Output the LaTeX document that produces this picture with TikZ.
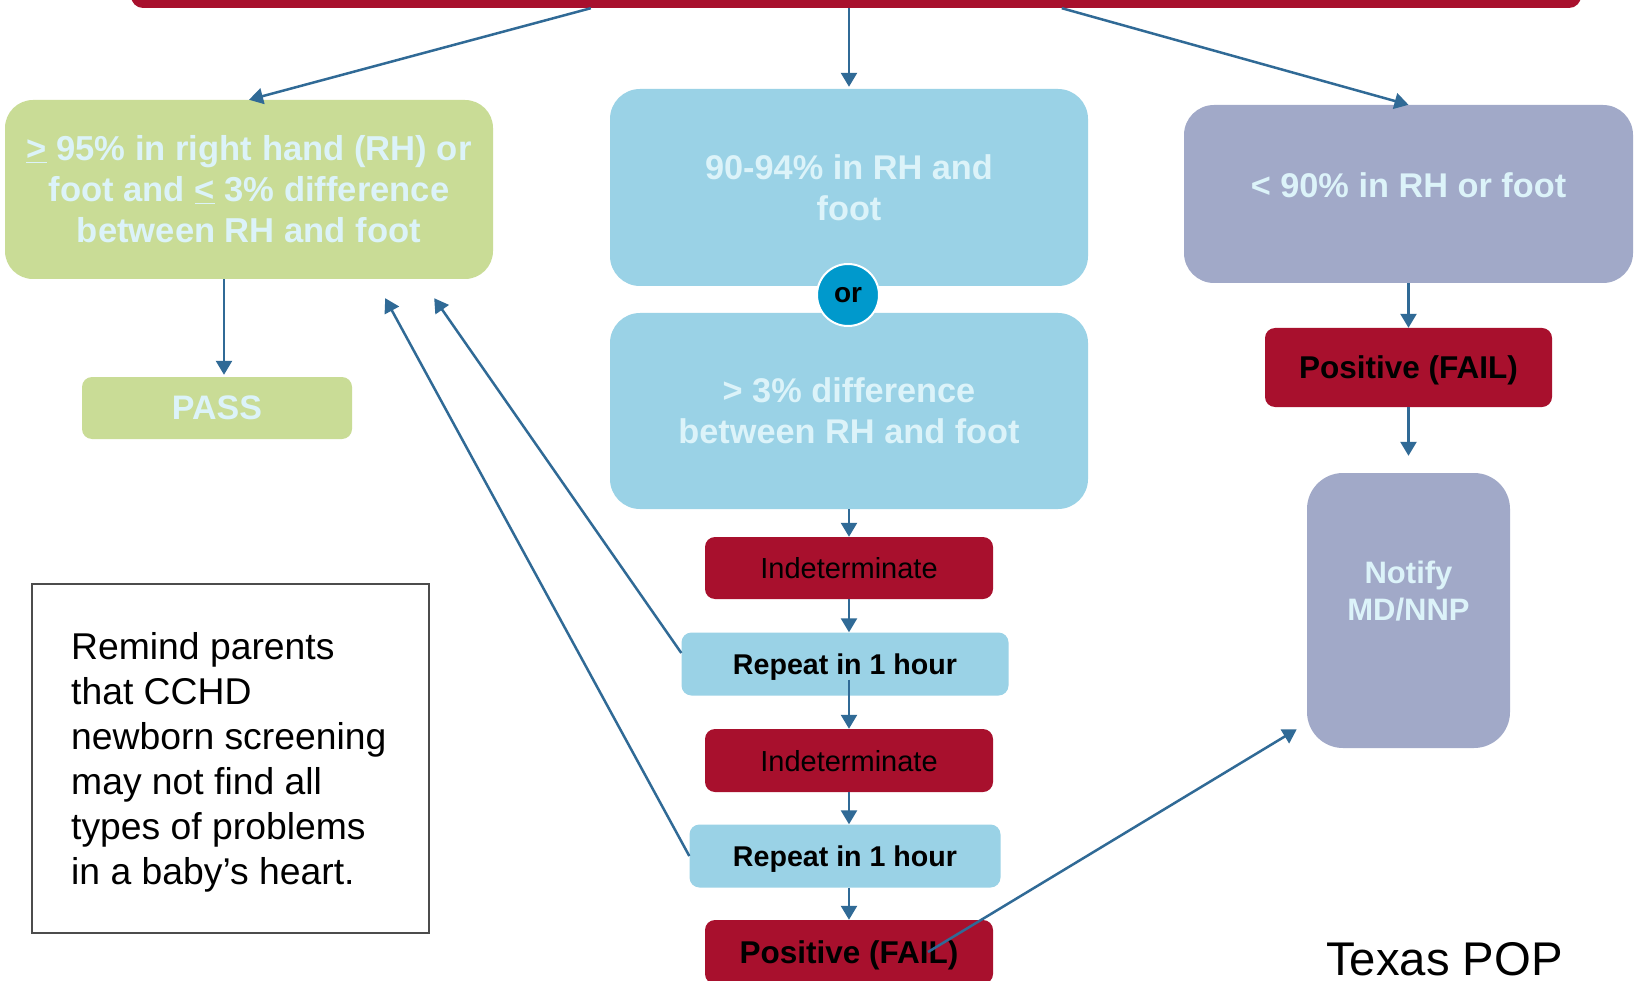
\documentclass[tikz,border=0pt]{standalone}
\usepackage{fontspec}
\setmainfont{Liberation Sans}
\usetikzlibrary{arrows.meta,calc}
\definecolor{redc}{HTML}{A8102D}
\definecolor{greenc}{HTML}{C9DC96}
\definecolor{bluec}{HTML}{9AD2E6}
\definecolor{purplec}{HTML}{A1A9C8}
\definecolor{lightt}{HTML}{DCF3F9}
\definecolor{arrowc}{HTML}{306A96}
\definecolor{orc}{HTML}{0099CC}
\begin{document}
\begin{tikzpicture}[x=1pt,y=-1pt,
  bigbox/.style={rectangle,rounded corners=30pt,inner sep=0pt,align=center,text=lightt,
     font=\fontsize{34.3pt}{41pt}\selectfont\bfseries},
  smallbox/.style={rectangle,rounded corners=10pt,inner sep=0pt,align=center,minimum height=62pt,text depth=0pt},
  conn/.style={draw=arrowc,line width=2.5pt,-{Triangle[length=14pt,width=16pt]}},
]
\useasboundingbox (0,0) rectangle (1640,981);
\fill[white] (0,0) rectangle (1640,981);
% nodes
\node[rectangle,rounded corners=12pt,fill=redc,minimum width=1450pt,minimum height=40pt] (top) at (856,-12) {};
\node[bigbox,fill=greenc,minimum width=488pt,minimum height=179pt,rounded corners=28pt,font=\fontsize{34.6pt}{41pt}\selectfont\bfseries] (green) at (249,189.5)
  {\underline{>} 95\% in right hand (RH) or\\foot and \underline{<} 3\% difference\\between RH and foot};
\node[smallbox,fill=greenc,minimum width=270pt,text=lightt,font=\fontsize{34pt}{41pt}\selectfont\bfseries] (pass) at (217,408) {PASS};
\node[bigbox,fill=bluec,minimum width=478pt,minimum height=197pt] (blueA) at (849,187.5) {90-94\% in RH and\\foot};
\node[bigbox,fill=bluec,minimum width=478pt,minimum height=196pt] (blueB) at (849,411) {> 3\% difference\\between RH and foot};
\node[circle,fill=orc,draw=white,line width=2pt,minimum size=62pt,inner sep=0pt,font=\fontsize{28pt}{30pt}\selectfont\bfseries] (or) at (848,295) {or};
\node[bigbox,fill=purplec,minimum width=449pt,minimum height=178pt,text depth=18pt] (purple) at (1408.5,194) {< 90\% in RH or foot};
\node[smallbox,fill=redc,minimum width=287pt,minimum height=79pt,font=\fontsize{31.5pt}{36pt}\selectfont\bfseries] (posR) at (1408.5,367.5) {Positive (FAIL)};
\node[rectangle,rounded corners=36pt,fill=purplec,minimum width=203pt,minimum height=275pt] (notify) at (1408.5,610.5) {};
\node[align=center,text=lightt,font=\fontsize{31pt}{37pt}\selectfont\bfseries] (notifyt) at (1408.5,591) {Notify\\MD/NNP};
\node[smallbox,fill=redc,minimum width=288pt,font=\fontsize{29pt}{34pt}\selectfont] (ia) at (849,568) {Indeterminate};
\node[smallbox,fill=bluec,minimum width=327pt,minimum height=63pt,font=\fontsize{28.6pt}{33pt}\selectfont\bfseries] (ra) at (845,664) {Repeat in 1 hour};
\node[smallbox,fill=redc,minimum width=288pt,minimum height=63pt,font=\fontsize{29pt}{34pt}\selectfont] (ib) at (849,760.5) {Indeterminate};
\node[smallbox,fill=bluec,minimum width=311pt,minimum height=63pt,font=\fontsize{28.6pt}{33pt}\selectfont\bfseries] (rb) at (845,856) {Repeat in 1 hour};
\node[smallbox,fill=redc,minimum width=288pt,minimum height=64pt,font=\fontsize{31.5pt}{36pt}\selectfont\bfseries] (posB) at (849,952) {Positive (FAIL)};
\node[rectangle,draw=black!70,line width=1.3pt,fill=white,minimum width=397pt,minimum height=349pt] (note) at (230.5,758.5) {};
\node[anchor=north west,inner sep=0pt,align=left,font=\fontsize{37.3pt}{45pt}\selectfont] (notet) at (71,632)
  {Remind parents\\that CCHD\\newborn screening\\may not find all\\types of problems\\in a baby’s heart.};
\node[anchor=base west,inner sep=0pt,font=\fontsize{47.3pt}{50pt}\selectfont] (texas) at (1326,975) {Texas POP};
% connectors
\draw[conn] ($(top.south west)+(460,0)$) -- (green.north);
\draw[conn] (top.south -| blueA.north) -- ([yshift=2pt]blueA.north);
\draw[conn] ($(top.south west)+(931,0)$) -- (purple.north);
\draw[conn] ([xshift=-25pt]green.south) -- ([xshift=-25pt,yshift=2pt]green.south |- pass.north);
\draw[conn] (purple.south) -- (posR.north);
\draw[conn] (posR.south) -- ([yshift=17pt]notify.north);
\draw[conn] (blueB.south) -- (ia.north);
\draw[conn] (ia.south) -- ([xshift=4pt]ra.north);
\draw[conn] ([xshift=4pt,yshift=16pt]ra.south) -- (ib.north);
\draw[conn] (ib.south) -- ([xshift=4pt]rb.north);
\draw[conn] ([xshift=4pt]rb.south) -- (posB.north);
\draw[conn] ([yshift=11pt]ra.west) -- ([xshift=-59pt,yshift=-19pt]green.south east);
\draw[conn] (rb.west) -- ([xshift=-108pt,yshift=-19pt]green.south east);
\draw[conn] ([xshift=79pt]posB.center) -- ([xshift=-10pt,yshift=19pt]notify.south west);
\end{tikzpicture}
\end{document}
